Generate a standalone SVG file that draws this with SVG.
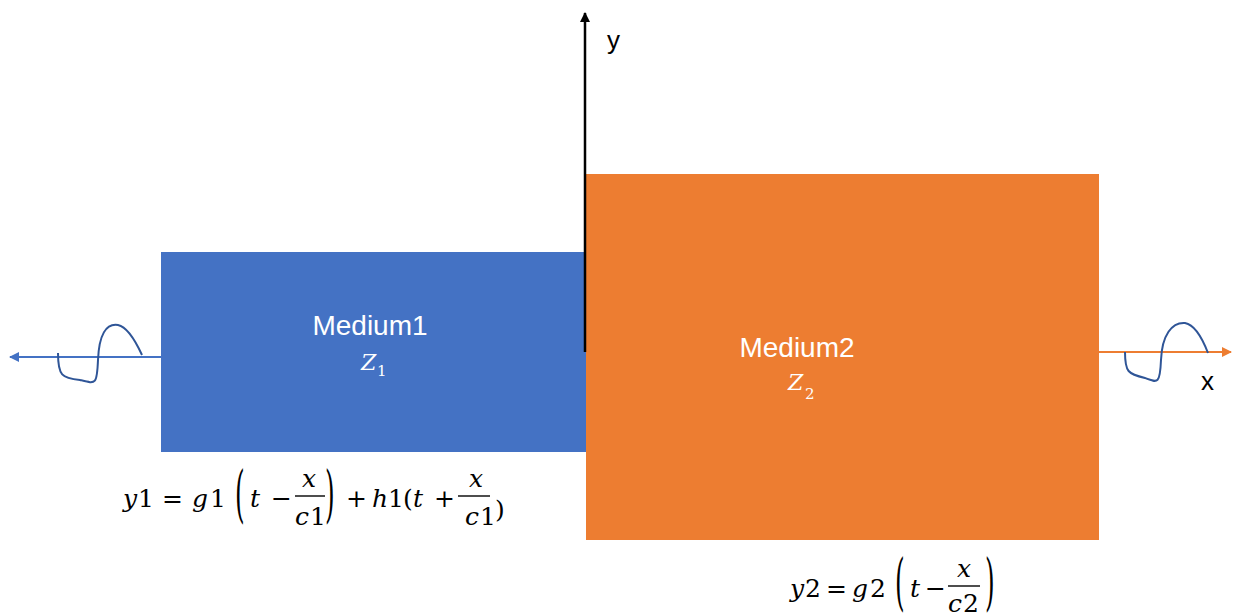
<svg xmlns="http://www.w3.org/2000/svg" width="1237" height="616" viewBox="0 0 1237 616">
<style>
.lbl{font-family:"Liberation Sans",Arial,sans-serif;fill:#fff;font-size:28px}
.ax{font-family:"Liberation Sans",Arial,sans-serif;fill:#000;font-size:26px}
.m{font-family:"DejaVu Serif","Liberation Serif",serif;font-size:25px;fill:#000}
.big{font-family:"DejaVu Serif","Liberation Serif",serif;font-size:62px;fill:#000}
.mw{font-family:"DejaVu Serif","Liberation Serif",serif;fill:#fff}
.i{font-style:italic}
.bar{stroke:#000;stroke-width:1.4}
.wave{fill:none;stroke:#2F5597;stroke-width:2}
</style>
<defs>
<marker id="ab" viewBox="0 0 10 10" refX="9" refY="5" markerWidth="10" markerHeight="10" markerUnits="userSpaceOnUse" orient="auto"><path d="M0,0 L10,5 L0,10 z" fill="#4472C4"/></marker>
<marker id="ao" viewBox="0 0 10 10" refX="9" refY="5" markerWidth="10" markerHeight="10" markerUnits="userSpaceOnUse" orient="auto"><path d="M0,0 L10,5 L0,10 z" fill="#ED7D31"/></marker>
<marker id="ak" viewBox="0 0 10 10" refX="9" refY="5" markerWidth="10" markerHeight="10" markerUnits="userSpaceOnUse" orient="auto"><path d="M0,0 L10,5 L0,10 z" fill="#000"/></marker>
</defs>
<g id="medium1">
<rect x="161" y="252" width="425" height="200" fill="#4472C4"/>
<text class="lbl" x="370" y="335" text-anchor="middle">Medium1</text>
<text class="mw" y="370"><tspan class="i" x="361" style="font-size:22px">Z</tspan><tspan x="377" y="376" style="font-size:15px">1</tspan></text>
</g>
<g id="medium2">
<rect x="586" y="174" width="513" height="366" fill="#ED7D31"/>
<text class="lbl" x="797" y="357" text-anchor="middle">Medium2</text>
<text class="mw" y="390"><tspan class="i" x="788" style="font-size:22px">Z</tspan><tspan x="805" y="399" style="font-size:15px">2</tspan></text>
</g>
<g id="connectors">
<line x1="161" y1="357" x2="10" y2="357" stroke="#4472C4" stroke-width="2" marker-end="url(#ab)"/>
<line x1="1099" y1="352" x2="1231" y2="352" stroke="#ED7D31" stroke-width="2" marker-end="url(#ao)"/>
<line x1="585" y1="352" x2="585" y2="13" stroke="#000" stroke-width="2.5" marker-end="url(#ak)"/>
</g>
<g id="wave-left">
<path class="wave" d="M58,353 C58,376 62,378 80,380 C96,384 97,385 98,360 C99,335 106,323 118,325 C128,327 136,342 142,355"/>
</g>
<g id="wave-right">
<path class="wave" d="M1125,352 C1125,372 1128,374 1145,378 C1158,383 1160,384 1161,360 C1162,335 1172,322 1185,323 C1196,325 1203,340 1208,353"/>
</g>
<g id="axis-labels">
<text class="ax" x="607" y="49">y</text>
<text class="ax" x="1201" y="390">x</text>
</g>
<g id="eq1">
<text class="m" y="507"><tspan class="i" x="123">y</tspan><tspan x="138">1</tspan><tspan x="162">=</tspan><tspan class="i" x="192">g</tspan><tspan x="210">1</tspan></text>
<text class="big" transform="translate(235,515) scale(0.4,1)">(</text>
<text class="m" y="507"><tspan class="i" x="250">t</tspan><tspan x="271">−</tspan></text>
<line class="bar" x1="295" y1="496" x2="325" y2="496"/>
<text class="m" y="487"><tspan class="i" x="302">x</tspan></text>
<text class="m" y="525"><tspan class="i" x="295">c</tspan><tspan x="310">1</tspan></text>
<text class="big" transform="translate(325,515) scale(0.4,1)">)</text>
<text class="m" y="507"><tspan x="346">+</tspan><tspan class="i" x="372">h</tspan><tspan x="388">1</tspan><tspan x="403">(</tspan><tspan class="i" x="413">t</tspan><tspan x="434">+</tspan></text>
<line class="bar" x1="458" y1="496" x2="490" y2="496"/>
<text class="m" y="487"><tspan class="i" x="469">x</tspan></text>
<text class="m" y="525"><tspan class="i" x="465">c</tspan><tspan x="480">1</tspan></text>
<text class="m" y="518"><tspan x="495">)</tspan></text>
</g>
<g id="eq2">
<text class="m" y="597"><tspan class="i" x="790">y</tspan><tspan x="805">2</tspan><tspan x="826">=</tspan><tspan class="i" x="852">g</tspan><tspan x="870">2</tspan></text>
<text class="big" transform="translate(895,603) scale(0.4,1)">(</text>
<text class="m" y="597"><tspan class="i" x="910">t</tspan><tspan x="925">−</tspan></text>
<line class="bar" x1="948" y1="586" x2="980" y2="586"/>
<text class="m" y="577"><tspan class="i" x="957">x</tspan></text>
<text class="m" y="612"><tspan class="i" x="948">c</tspan><tspan x="963">2</tspan></text>
<text class="big" transform="translate(985,603) scale(0.4,1)">)</text>
</g>
</svg>
